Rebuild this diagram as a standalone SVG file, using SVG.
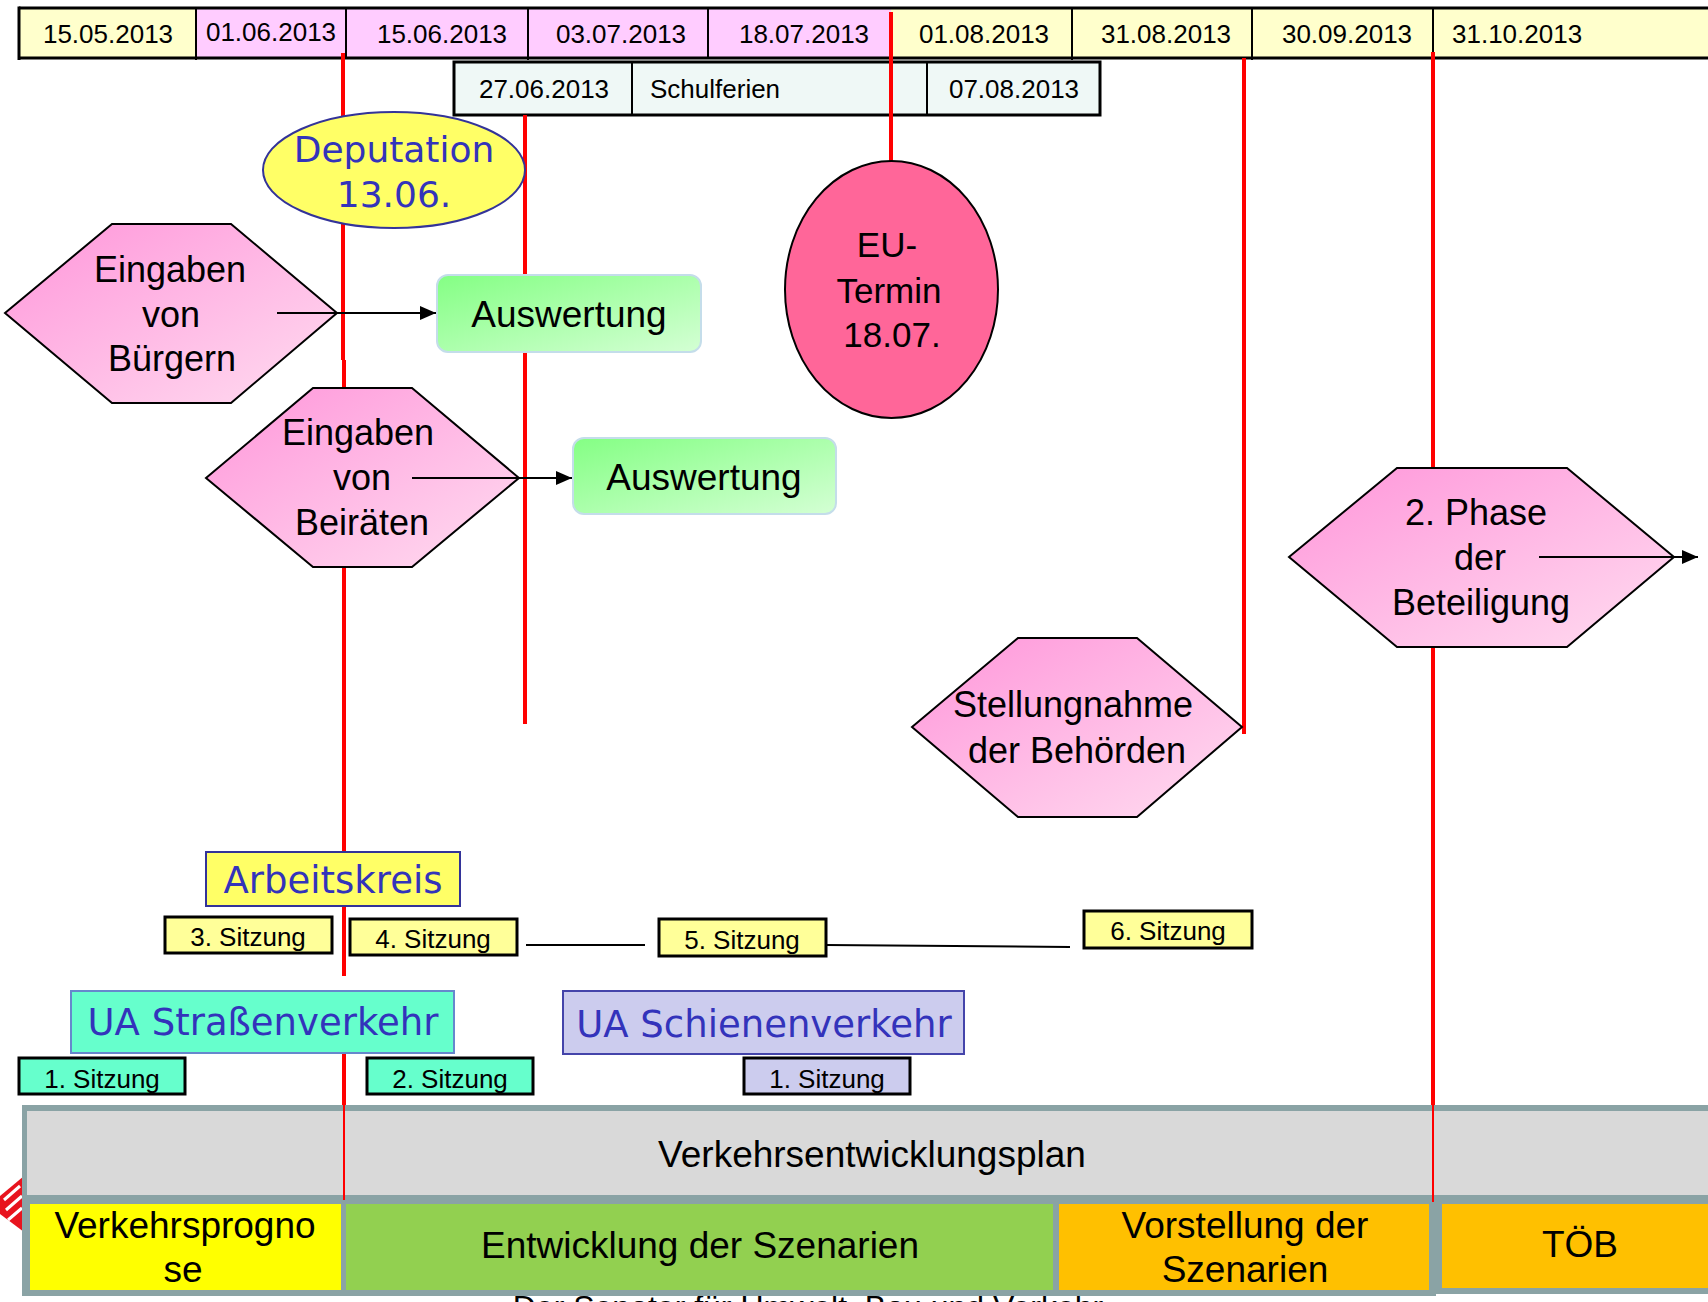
<svg xmlns="http://www.w3.org/2000/svg" width="1708" height="1302" viewBox="0 0 1708 1302">
<style>
.t{font-family:"Liberation Sans",Arial,sans-serif;fill:#000}
.d{font-size:26px}
.big{font-size:36px}
.blue{font-family:"DejaVu Sans",Verdana,sans-serif;fill:#3333BB}
.sz{font-size:26px}
.hex{stroke:#000;stroke-width:2;fill:url(#pink)}
.aus{stroke:#C4DDEA;stroke-width:2;fill:url(#green)}
.sit{stroke:#000;stroke-width:3}
.red{stroke:#FF0000;stroke-width:4;fill:none}
.redthin{stroke:#FF0000;stroke-width:2;fill:none}
.con{stroke:#000;stroke-width:2;fill:none}
</style>
<defs>
<linearGradient id="pink" x1="0" y1="0" x2="1" y2="1">
<stop offset="0" stop-color="#FF96DA"/>
<stop offset="1" stop-color="#FFDCF0"/>
</linearGradient>
<linearGradient id="green" x1="0" y1="0" x2="1" y2="1">
<stop offset="0" stop-color="#84FF84"/>
<stop offset="1" stop-color="#D4FFD4"/>
</linearGradient>
<marker id="arr" markerWidth="16" markerHeight="14" refX="16" refY="7" orient="auto" markerUnits="userSpaceOnUse">
<path d="M0,0 L16,7 L0,14 z" fill="#000"/>
</marker>
</defs>
<rect width="1708" height="1302" fill="#fff"/>

<!-- footer text (cut off at the bottom edge, as in the picture) -->
<text class="t" x="808" y="1318" font-size="32" text-anchor="middle">Der Senator für Umwelt, Bau und Verkehr</text>

<!-- logo fragment -->
<g id="logo">
<polygon points="24,1176 0,1196 0,1214 24,1232" fill="#E8141E"/>
<path d="M4,1200 L20,1186 M6,1210 L22,1196 M8,1220 L22,1208" stroke="#fff" stroke-width="3"/>
</g>

<!-- top timeline -->
<g id="timeline">
<rect x="19" y="8" width="177" height="50" fill="#FFFFCC"/>
<rect x="196" y="8" width="695" height="50" fill="#FFCCFF"/>
<rect x="891" y="8" width="817" height="50" fill="#FFFFCC"/>
<path d="M19,8 H1708 M19,58 H1708" stroke="#000" stroke-width="3"/>
<path d="M19,6.5 V60" stroke="#000" stroke-width="3"/>
<path d="M196,8 V60 M346,8 V58 M528,8 V60 M708,8 V58 M1072,8 V60 M1252,8 V60 M1433,8 V60" stroke="#000" stroke-width="2"/>
<text class="t d" x="108" y="43" text-anchor="middle">15.05.2013</text>
<text class="t d" x="271" y="41" text-anchor="middle">01.06.2013</text>
<text class="t d" x="442" y="43" text-anchor="middle">15.06.2013</text>
<text class="t d" x="621" y="43" text-anchor="middle">03.07.2013</text>
<text class="t d" x="804" y="43" text-anchor="middle">18.07.2013</text>
<text class="t d" x="984" y="43" text-anchor="middle">01.08.2013</text>
<text class="t d" x="1166" y="43" text-anchor="middle">31.08.2013</text>
<text class="t d" x="1347" y="43" text-anchor="middle">30.09.2013</text>
<text class="t d" x="1452" y="43">31.10.2013</text>
</g>
<g id="holidays">
<rect x="454" y="62" width="646" height="53" fill="#EFF8F6" stroke="#000" stroke-width="3"/>
<path d="M632,62 V115 M927,62 V115" stroke="#000" stroke-width="2"/>
<text class="t d" x="544" y="98" text-anchor="middle">27.06.2013</text>
<text class="t d" x="650" y="98">Schulferien</text>
<text class="t d" x="1014" y="98" text-anchor="middle">07.08.2013</text>
</g>

<!-- bottom table -->
<g id="plan">
<rect x="22" y="1105" width="1686" height="100" fill="#8AA3A5"/>
<rect x="22" y="1195" width="1414" height="101" fill="#8AA3A5"/>
<rect x="27" y="1111" width="1681" height="84" fill="#D9D9D9"/>
<rect x="30" y="1204" width="311" height="86" fill="#FFFF00"/>
<rect x="346" y="1204" width="707" height="86" fill="#92D050"/>
<rect x="1059" y="1204" width="370" height="86" fill="#FFC000"/>
<rect x="1436" y="1198" width="272" height="96" fill="#8AA3A5"/>
<rect x="1442" y="1204" width="266" height="84" fill="#FFC000"/>
<text class="t" x="872" y="1167" font-size="37" text-anchor="middle">Verkehrsentwicklungsplan</text>
<text class="t" x="185" y="1238" font-size="37" text-anchor="middle">Verkehrsprogno</text>
<text class="t" x="183" y="1282" font-size="37" text-anchor="middle">se</text>
<text class="t" x="700" y="1258" font-size="37" text-anchor="middle">Entwicklung der Szenarien</text>
<text class="t" x="1245" y="1238" font-size="37" text-anchor="middle">Vorstellung der</text>
<text class="t" x="1245" y="1282" font-size="37" text-anchor="middle">Szenarien</text>
<text class="t" x="1580" y="1257" font-size="37" text-anchor="middle">TÖB</text>
</g>

<!-- red date markers -->
<g id="markers">
<path class="red" d="M343,53 V360"/>
<path class="red" d="M344,360 V976"/>
<path class="red" d="M344,990 V1105"/>
<path class="redthin" d="M344,1105 V1200"/>
<path class="red" d="M525,115 V724"/>
<path class="red" d="M891,12 V161"/>
<path class="red" d="M1244,58 V734"/>
<path class="red" d="M1433,52 V1105"/>
<path class="redthin" d="M1433,1105 V1202"/>
</g>

<!-- nodes -->
<g id="deputation">
<ellipse cx="394" cy="170" rx="131" ry="58" fill="#FFFF66" stroke="#333399" stroke-width="2"/>
<text class="blue" x="394" y="162" font-size="36" text-anchor="middle">Deputation</text>
<text class="blue" x="394" y="207" font-size="36" text-anchor="middle">13.06.</text>
</g>
<g id="eingaben-buerger">
<polygon class="hex" points="5,313 112,224 231,224 337,313 231,403 112,403"/>
<text class="t big" x="170" y="282" text-anchor="middle">Eingaben</text>
<text class="t big" x="171" y="327" text-anchor="middle">von</text>
<text class="t big" x="172" y="371" text-anchor="middle">Bürgern</text>
</g>
<g id="auswertung-1">
<rect class="aus" x="437" y="275" width="264" height="77" rx="11"/>
<text class="t" x="569" y="327" font-size="37" text-anchor="middle">Auswertung</text>
</g>
<g id="eingaben-beiraete">
<polygon class="hex" points="206,478 313,388 412,388 519,478 412,567 313,567"/>
<text class="t big" x="358" y="445" text-anchor="middle">Eingaben</text>
<text class="t big" x="362" y="490" text-anchor="middle">von</text>
<text class="t big" x="362" y="535" text-anchor="middle">Beiräten</text>
</g>
<g id="auswertung-2">
<rect class="aus" x="573" y="438" width="263" height="76" rx="11"/>
<text class="t" x="704" y="490" font-size="37" text-anchor="middle">Auswertung</text>
</g>
<g id="eu-termin">
<ellipse cx="891.5" cy="289.5" rx="106.5" ry="128.5" fill="#FF6699" stroke="#000" stroke-width="2"/>
<text class="t" x="887" y="257" font-size="35" text-anchor="middle">EU-</text>
<text class="t" x="889" y="303" font-size="35" text-anchor="middle">Termin</text>
<text class="t" x="892" y="347" font-size="35" text-anchor="middle">18.07.</text>
</g>
<g id="stellungnahme">
<polygon class="hex" points="912,727 1018,638 1137,638 1242,727 1137,817 1018,817"/>
<text class="t big" x="1073" y="717" text-anchor="middle">Stellungnahme</text>
<text class="t big" x="1077" y="763" text-anchor="middle">der Behörden</text>
</g>
<g id="phase2">
<polygon class="hex" points="1289,557 1397,468 1567,468 1674,557 1567,647 1397,647"/>
<text class="t big" x="1476" y="525" text-anchor="middle">2. Phase</text>
<text class="t big" x="1480" y="570" text-anchor="middle">der</text>
<text class="t big" x="1481" y="615" text-anchor="middle">Beteiligung</text>
</g>
<g id="arbeitskreis">
<rect x="206" y="852" width="254" height="54" fill="#FFFF66" stroke="#333399" stroke-width="2"/>
<text class="blue" x="333" y="893" font-size="37" text-anchor="middle">Arbeitskreis</text>
</g>
<g id="ak-sitzung-3">
<rect class="sit" x="165" y="917" width="167" height="36" fill="#FFFF99"/>
<text class="t sz" x="248" y="946" text-anchor="middle">3. Sitzung</text>
</g>
<g id="ak-sitzung-4">
<rect class="sit" x="350" y="919" width="167" height="36" fill="#FFFF99"/>
<text class="t sz" x="433" y="948" text-anchor="middle">4. Sitzung</text>
</g>
<g id="ak-sitzung-5">
<rect class="sit" x="659" y="919" width="167" height="37" fill="#FFFF99"/>
<text class="t sz" x="742" y="949" text-anchor="middle">5. Sitzung</text>
</g>
<g id="ak-sitzung-6">
<rect class="sit" x="1084" y="911" width="168" height="37" fill="#FFFF99"/>
<text class="t sz" x="1168" y="940" text-anchor="middle">6. Sitzung</text>
</g>
<g id="ua-strasse">
<rect x="71" y="991" width="383" height="62" fill="#66FFCC" stroke="#6688CC" stroke-width="2"/>
<text class="blue" x="263" y="1035" font-size="37" text-anchor="middle">UA Straßenverkehr</text>
</g>
<g id="ua-schiene">
<rect x="563" y="991" width="401" height="63" fill="#CCCCEE" stroke="#4444AA" stroke-width="2"/>
<text class="blue" x="764" y="1037" font-size="37" text-anchor="middle">UA Schienenverkehr</text>
</g>
<g id="uas-sitzung-1">
<rect class="sit" x="19" y="1058" width="166" height="36" fill="#66FFCC"/>
<text class="t sz" x="102" y="1088" text-anchor="middle">1. Sitzung</text>
</g>
<g id="uas-sitzung-2">
<rect class="sit" x="367" y="1058" width="166" height="36" fill="#66FFCC"/>
<text class="t sz" x="450" y="1088" text-anchor="middle">2. Sitzung</text>
</g>
<g id="uasch-sitzung-1">
<rect class="sit" x="744" y="1058" width="166" height="36" fill="#CCCCEE"/>
<text class="t sz" x="827" y="1088" text-anchor="middle">1. Sitzung</text>
</g>

<!-- connectors -->
<g id="connectors">
<line class="con" x1="277" y1="313" x2="436" y2="313" marker-end="url(#arr)"/>
<line class="con" x1="412" y1="478" x2="572" y2="478" marker-end="url(#arr)"/>
<line class="con" x1="1539" y1="557" x2="1698" y2="557" marker-end="url(#arr)"/>
<line class="con" x1="526" y1="945" x2="645" y2="945"/>
<line class="con" x1="826" y1="945" x2="1070" y2="947"/>
</g>
</svg>
